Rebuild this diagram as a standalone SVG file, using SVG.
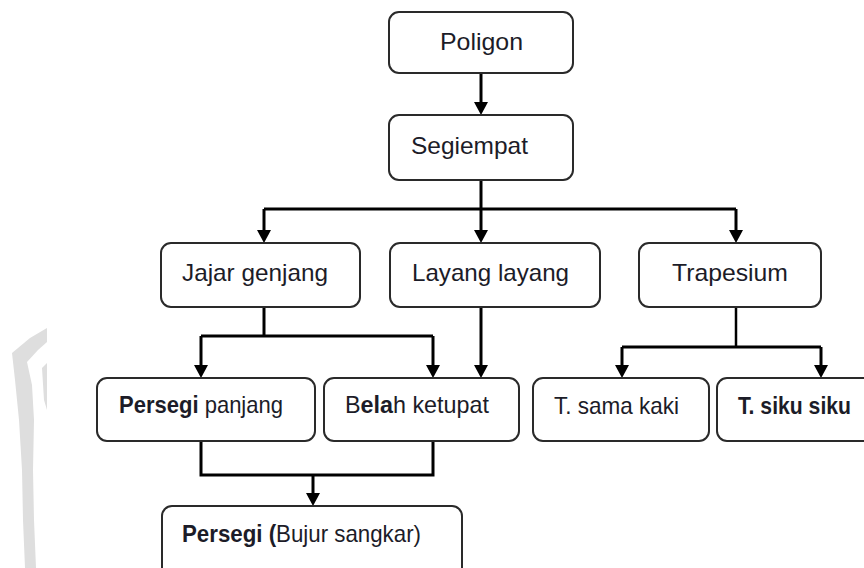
<svg xmlns="http://www.w3.org/2000/svg" width="864" height="568" viewBox="0 0 864 568">
<style>
.box{fill:#fff;stroke:#2a2a2a;stroke-width:2}
.lbl{font-family:"Liberation Sans",Arial,sans-serif;font-size:24px;fill:#1c1c28}
.b{font-weight:bold}
.con{fill:none;stroke:#000;stroke-width:3}
.wm{fill:#dedede}
</style>
<defs>
<marker id="arr" viewBox="0 0 13 14" markerUnits="userSpaceOnUse" markerWidth="13" markerHeight="14" refX="5" refY="7" orient="auto">
<path d="M0,0 L13,7 L0,14 z" fill="#000"/>
</marker>
</defs>
<rect width="864" height="568" fill="#fff"/>
<g id="watermark">
<path class="wm" d="M47,328 L30,338 L12,353 L15,380 L19,420 L22,470 L23,520 L25,568 L36,568 L34,520 L33,470 L34,420 L32,385 L27,362 L38,350 L47,342 z"/>
<path class="wm" d="M42,368 L47,363 L47,410 L44,400 z"/>
</g>
<g id="connectors">
<path class="con" d="M481,73 V107" marker-end="url(#arr)"/>
<path class="con" d="M481,180 V235" marker-end="url(#arr)"/>
<path class="con" d="M264,209 H736"/>
<path class="con" d="M264,209 V235" marker-end="url(#arr)"/>
<path class="con" d="M736,209 V235" marker-end="url(#arr)"/>
<path class="con" d="M264,307 V336"/>
<path class="con" d="M201,336 H433"/>
<path class="con" d="M201,336 V370" marker-end="url(#arr)"/>
<path class="con" d="M433,336 V370" marker-end="url(#arr)"/>
<path class="con" d="M481,307 V370" marker-end="url(#arr)"/>
<path class="con" style="stroke-width:2.5" d="M736,307 V347"/>
<path class="con" d="M622,347 H821"/>
<path class="con" d="M622,347 V370" marker-end="url(#arr)"/>
<path class="con" d="M821,347 V370" marker-end="url(#arr)"/>
<path class="con" d="M201,441 V475 H433 V441"/>
<path class="con" d="M313,475 V498" marker-end="url(#arr)"/>
</g>
<g id="poligon">
<rect class="box" x="389" y="12" width="184" height="61" rx="10"/>
<text class="lbl" x="440" y="50" textLength="83" lengthAdjust="spacingAndGlyphs">Poligon</text>
</g>
<g id="segiempat">
<rect class="box" x="389" y="115" width="184" height="65" rx="10"/>
<text class="lbl" x="411" y="154" textLength="117" lengthAdjust="spacingAndGlyphs">Segiempat</text>
</g>
<g id="jajar-genjang">
<rect class="box" x="161" y="243" width="199" height="64" rx="10"/>
<text class="lbl" x="182" y="281" textLength="146" lengthAdjust="spacingAndGlyphs">Jajar genjang</text>
</g>
<g id="layang-layang">
<rect class="box" x="390" y="243" width="210" height="64" rx="10"/>
<text class="lbl" x="412" y="281" textLength="157" lengthAdjust="spacingAndGlyphs">Layang layang</text>
</g>
<g id="trapesium">
<rect class="box" x="639" y="243" width="182" height="64" rx="10"/>
<text class="lbl" x="672" y="281" textLength="116" lengthAdjust="spacingAndGlyphs">Trapesium</text>
</g>
<g id="persegi-panjang">
<rect class="box" x="97" y="378" width="218" height="63" rx="10"/>
<text class="lbl" x="119" y="413" textLength="164" lengthAdjust="spacingAndGlyphs"><tspan class="b">Persegi</tspan> panjang</text>
</g>
<g id="belah-ketupat">
<rect class="box" x="324" y="378" width="195" height="63" rx="10"/>
<text class="lbl" x="345" y="413" textLength="144" lengthAdjust="spacingAndGlyphs">B<tspan class="b">ela</tspan>h ketupat</text>
</g>
<g id="t-sama-kaki">
<rect class="box" x="533" y="378" width="176" height="63" rx="10"/>
<text class="lbl" x="554" y="414" textLength="125" lengthAdjust="spacingAndGlyphs">T. sama kaki</text>
</g>
<g id="t-siku-siku">
<rect class="box" x="717" y="378" width="170" height="63" rx="10"/>
<text class="lbl b" x="738" y="414" textLength="113" lengthAdjust="spacingAndGlyphs">T. siku siku</text>
</g>
<g id="persegi">
<rect class="box" x="162" y="506" width="300" height="75" rx="10"/>
<text class="lbl" x="182" y="542" textLength="239" lengthAdjust="spacingAndGlyphs"><tspan class="b">Persegi (</tspan>Bujur sangkar)</text>
</g>
</svg>
